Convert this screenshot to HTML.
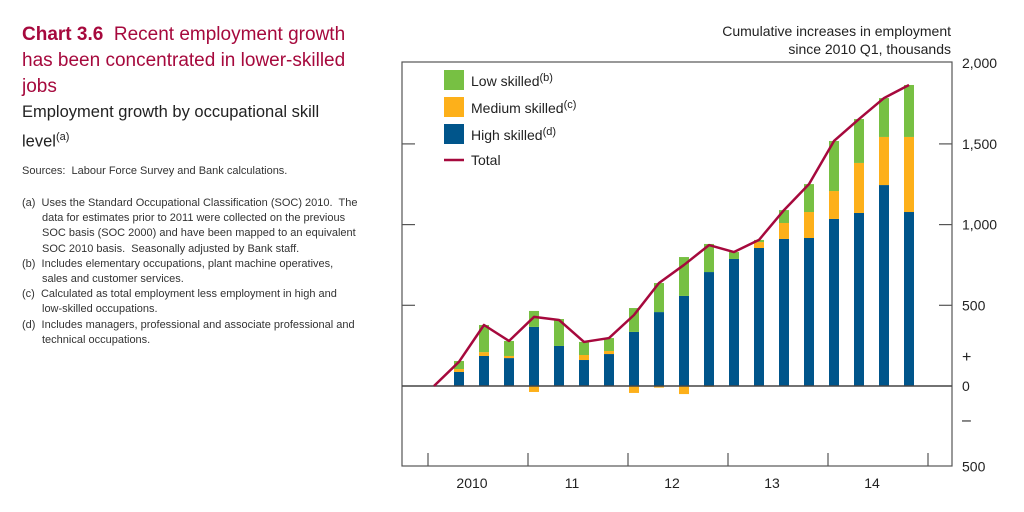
<!DOCTYPE html>
<html><head><meta charset="utf-8"><style>
body{margin:0;width:1024px;height:512px;background:#fff;font-family:"Liberation Sans",sans-serif;position:relative;overflow:hidden}
.t{position:absolute;white-space:nowrap}
#title{left:22px;top:22px;color:#a6093d;font-size:19px;line-height:26px}
#sub{left:22px;top:100px;color:#222;font-size:16.5px;line-height:25px}
#src{left:22px;top:165px;color:#333;font-size:11px}
#notes{left:22px;top:196px;color:#333;font-size:11px;line-height:15.2px}
#notes div{padding-left:20px;text-indent:-20px}
#units{right:73px;top:22px;text-align:right;font-size:14px;line-height:18px;color:#222}
</style></head><body>
<div class="t" id="title"><b>Chart 3.6</b>&nbsp; Recent employment growth<br>has been concentrated in lower-skilled<br>jobs</div>
<div class="t" id="sub">Employment growth by occupational skill<br>level<sup style="font-size:11px">(a)</sup></div>
<div class="t" id="src">Sources:&nbsp; Labour Force Survey and Bank calculations.</div>
<div class="t" id="notes">
<div>(a)&nbsp; Uses the Standard Occupational Classification (SOC) 2010.&nbsp; The<br>data for estimates prior to 2011 were collected on the previous<br>SOC basis (SOC 2000) and have been mapped to an equivalent<br>SOC 2010 basis.&nbsp; Seasonally adjusted by Bank staff.</div>
<div>(b)&nbsp; Includes elementary occupations, plant machine operatives,<br>sales and customer services.</div>
<div>(c)&nbsp; Calculated as total employment less employment in high and<br>low-skilled occupations.</div>
<div>(d)&nbsp; Includes managers, professional and associate professional and<br>technical occupations.</div>
</div>
<div class="t" id="units">Cumulative increases in employment<br>since 2010 Q1, thousands</div>
<svg id="chart" width="1024" height="512" style="position:absolute;left:0;top:0"></svg>
<script>
const quarters=["2010Q2","2010Q3","2010Q4","2011Q1","2011Q2","2011Q3","2011Q4","2012Q1","2012Q2","2012Q3","2012Q4","2013Q1","2013Q2","2013Q3","2013Q4","2014Q1","2014Q2","2014Q3","2014Q4"];
const high=[87,186,173,366,248,161,198,335,458,558,706,787,855,911,917,1035,1072,1245,1078];
const medium=[18,24,13,-37,0,31,19,-43,-10,-50,-5,0,37,99,161,173,310,298,465];
const low=[50,168,93,99,167,81,80,148,180,241,174,43,13,80,173,310,272,241,322];
const total=[0,150,378,279,428,409,273,297,440,638,750,873,830,905,1090,1251,1518,1654,1784,1865];
const yearLabels=["2010","11","12","13","14"];
const yTicks=[2000,1500,1000,500,0,-500];
const yTickLabels=["2,000","1,500","1,000","500","0","500"];
const NS="http://www.w3.org/2000/svg",svg=document.getElementById("chart");
const L=402,R=952,T=62,B=466;
const y=v=>386-v*0.1614;
const xq=i=>434+25*i; // i=0 => 2010Q1
function mk(tag,a){const e=document.createElementNS(NS,tag);for(const k in a)e.setAttribute(k,a[k]);svg.appendChild(e);return e;}
const frame=mk("rect",{x:L,y:T,width:R-L,height:B-T,fill:"none",stroke:"#555","stroke-width":1.2});


yTicks.forEach((v,i)=>{
  if(v!==2000&&v!==-500&&v!==0){
    const a=mk("line",{x1:L,x2:L+13,y1:y(v),y2:y(v),stroke:"#555","stroke-width":1.2});
    
    
    const b=mk("line",{x1:R-13,x2:R,y1:y(v),y2:y(v),stroke:"#555","stroke-width":1.2});
    
    
  }
  const t=mk("text",{x:962,y:y(v)+5,"font-size":14,fill:"#222","font-family":"Liberation Sans"});
  t.textContent=yTickLabels[i];
  
  
});
[["+",362],["–",425]].forEach(s=>{const t=mk("text",{x:962,y:s[1],"font-size":16,fill:"#222"});t.textContent=s[0];

});
yearLabels.forEach((lab,i)=>{
  const tx=428+100*i;
  const tk=mk("line",{x1:tx,x2:tx,y1:B-13,y2:B,stroke:"#555","stroke-width":1.2});
  
  
  const t=mk("text",{x:tx+44,y:488,"font-size":14,fill:"#222","text-anchor":"middle"});
  t.textContent=lab;
  
  
});
const tk=mk("line",{x1:928,x2:928,y1:B-13,y2:B,stroke:"#555","stroke-width":1.2});


const bw=10;
quarters.forEach((q,i)=>{
  const cx=xq(i+1),x0=cx-bw/2;
  let pos=0,neg=0;
  const segs=[[high[i],"#00558b","bar-high-skilled"],[medium[i],"#fdb01a","bar-medium-skilled"],[low[i],"#77c043","bar-low-skilled"]];
  segs.forEach(s=>{
    const v=s[0];if(!v)return;
    let a,b;
    if(v>0){a=pos;b=pos+v;pos=b;}else{a=neg;b=neg+v;neg=b;}
    const r=mk("rect",{x:x0,y:y(Math.max(a,b)),width:bw,height:Math.abs(y(a)-y(b)),fill:s[1]});
    
    
  });
});
const zl=mk("line",{x1:L,x2:R,y1:y(0),y2:y(0),stroke:"#444","stroke-width":1.5});


const pl=mk("polyline",{points:total.map((v,i)=>xq(i)+","+y(v)).join(" "),fill:"none",stroke:"#a6093d","stroke-width":2.5,"stroke-linejoin":"round"});


const leg=[["#77c043","Low skilled","(b)"],["#fdb01a","Medium skilled","(c)"],["#00558b","High skilled","(d)"]];
leg.forEach((l,i)=>{
  const r=mk("rect",{x:444,y:70+27*i,width:20,height:20,fill:l[0]});
  
  
  const t=mk("text",{x:471,y:86+27*i,"font-size":14,fill:"#222"});
  t.innerHTML=l[1]+'<tspan dy="-5" font-size="11">'+l[2]+'</tspan>';
  
  
});
const ll=mk("line",{x1:444,x2:464,y1:160,y2:160,stroke:"#a6093d","stroke-width":2.5});


const lt=mk("text",{x:471,y:165,"font-size":14,fill:"#222"});lt.textContent="Total";


</script>
</body></html>
